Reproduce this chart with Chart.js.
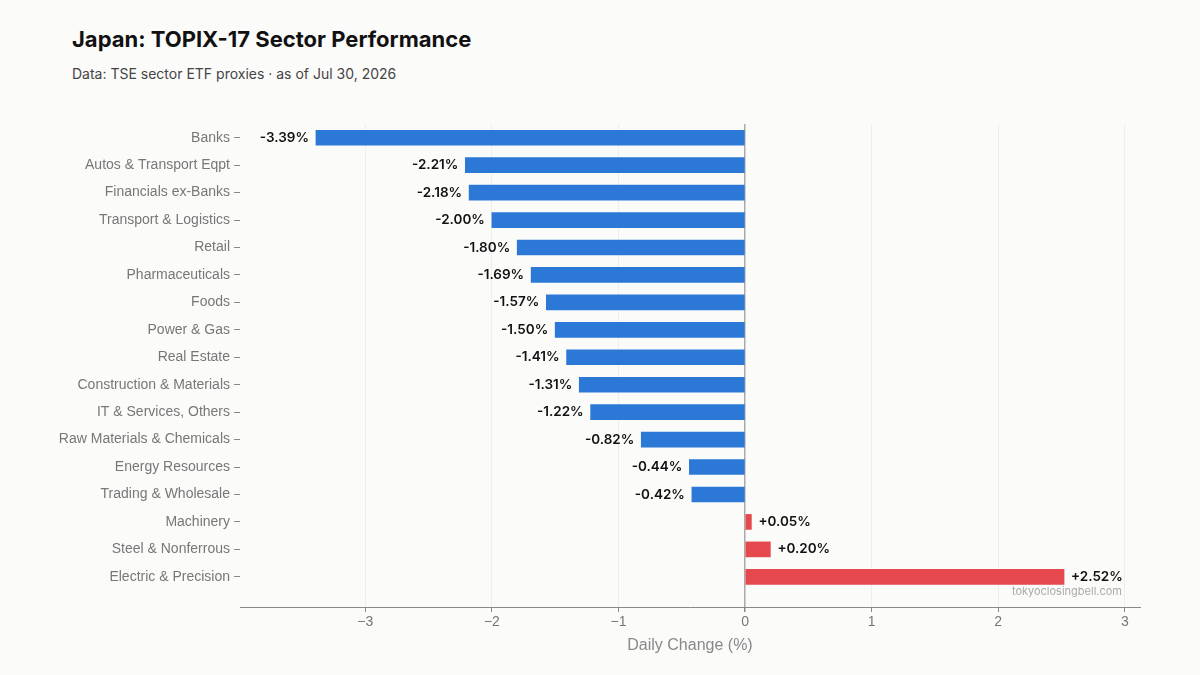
<!DOCTYPE html>
<html>
<head>
<meta charset="utf-8">
<script src="https://cdn.jsdelivr.net/npm/chart.js@4"></script>
<style>
  body { margin: 0; background: #fbfbfa; font-family: Inter, "Noto Sans", sans-serif; }
  #wrap { position: relative; width: 1200px; height: 675px; }
  h1 { position: absolute; left: 72px; top: 26px; margin: 0; font-size: 22px; font-weight: 700; color: #111; }
  p.sub { position: absolute; left: 72px; top: 65px; margin: 0; font-size: 14px; color: #444; }
  canvas { position: absolute; left: 0; top: 0; }
</style>
</head>
<body>
<div id="wrap">
  <h1>Japan: TOPIX-17 Sector Performance</h1>
  <p class="sub">Data: TSE sector ETF proxies · as of Jul 30, 2026</p>
  <canvas id="chart" width="1200" height="675"></canvas>
</div>
<script>
// sectors, top to bottom
const sectors = ['Banks', 'Autos & Transport Eqpt', 'Financials ex-Banks', 'Transport & Logistics',
  'Retail', 'Pharmaceuticals', 'Foods', 'Power & Gas', 'Real Estate', 'Construction & Materials',
  'IT & Services, Others', 'Raw Materials & Chemicals', 'Energy Resources', 'Trading & Wholesale',
  'Machinery', 'Steel & Nonferrous', 'Electric & Precision'];
const changes = [-3.39, -2.21, -2.18, -2.00, -1.80, -1.69, -1.57, -1.50, -1.41, -1.31,
  -1.22, -0.82, -0.44, -0.42, 0.05, 0.20, 2.52];
const xTicks = [-3, -2, -1, 0, 1, 2, 3];

const BLUE = '#2b78d6', RED = '#e5484d';

// value labels at bar ends + watermark
const labelPlugin = {
  id: 'labels',
  afterDatasetsDraw(chart) {
    const ctx = chart.ctx;
    const meta = chart.getDatasetMeta(0);
    ctx.save();
    ctx.font = '600 13.5px Inter, sans-serif';
    ctx.fillStyle = '#111';
    ctx.textBaseline = 'middle';
    meta.data.forEach((bar, i) => {
      const v = changes[i];
      const txt = (v > 0 ? '+' : '') + v.toFixed(2) + '%';
      if (v < 0) { ctx.textAlign = 'right'; ctx.fillText(txt, bar.x - 7, bar.y); }
      else { ctx.textAlign = 'left'; ctx.fillText(txt, bar.x + 7, bar.y); }
    });
    const a = chart.chartArea;
    ctx.font = '11px Inter, sans-serif';
    ctx.fillStyle = '#aaa';
    ctx.textAlign = 'right';
    ctx.fillText('tokyoclosingbell.com', a.right - 18, 592);
    ctx.restore();
  }
};

new Chart(document.getElementById('chart'), {
  type: 'bar',
  data: {
    datasets: [{
      data: changes.map((v, i) => ({ x: v, y: i })),
      backgroundColor: changes.map(v => v < 0 ? BLUE : RED),
      barThickness: 15
    }]
  },
  options: {
    indexAxis: 'y',
    responsive: false,
    animation: false,
    layout: { padding: { top: 124, right: 60, bottom: 16, left: 0 } },
    plugins: { legend: { display: false }, tooltip: { enabled: false } },
    scales: {
      x: {
        type: 'linear',
        min: -3.99, max: 3.12,
        afterBuildTicks: s => { s.ticks = xTicks.map(v => ({ value: v })); },
        afterFit: s => { s.height = 52; },
        ticks: { color: '#777', font: { size: 14 }, padding: 2,
          callback: v => v < 0 ? '\u2212' + Math.abs(v) : String(v) },
        grid: {
          color: ctx => ctx.tick && ctx.tick.value === 0 ? '#aaa' : '#eeeeec',
          lineWidth: ctx => ctx.tick && ctx.tick.value === 0 ? 1.5 : 1,
          tickColor: '#888', tickLength: 5
        },
        border: { color: '#888' },
        title: { display: true, text: 'Daily Change (%)', color: '#888', font: { size: 16 }, padding: { top: 2 } }
      },
      y: {
        type: 'linear',
        reverse: true,
        offset: false,
        min: -0.5, max: 17.1,
        afterBuildTicks: s => { s.ticks = sectors.map((_, i) => ({ value: i })); },
        afterFit: s => { s.width = 240; },
        ticks: { color: '#777', font: { size: 14 }, padding: 4, callback: v => sectors[v] },
        grid: { offset: false, drawOnChartArea: false, tickLength: 6, tickColor: '#888' },
        border: { display: false }
      }
    }
  },
  plugins: [labelPlugin]
});
</script>
</body>
</html>
